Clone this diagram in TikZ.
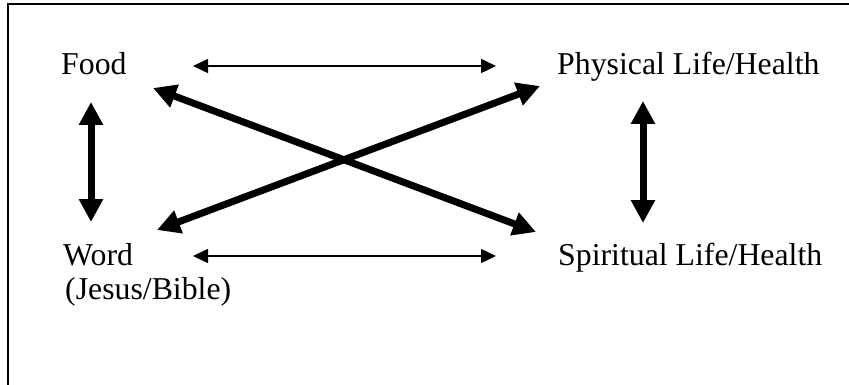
\documentclass[tikz,border=0pt]{standalone}
\usepackage{fontspec}
\setmainfont{Liberation Serif}
\usetikzlibrary{arrows.meta}
\begin{document}
\begin{tikzpicture}[x=1pt,y=-1pt,
  lbl/.style={anchor=base west,inner sep=0pt,font=\fontsize{31.8}{36}\selectfont},
  thin/.style={line width=1.5pt,{Triangle[length=15pt,width=14pt]}-{Triangle[length=15pt,width=14pt]}},
  thick/.style={line width=7pt,{Triangle[length=23pt,width=23pt]}-{Triangle[length=23pt,width=23pt]}},
  frame/.style={line width=2pt}]
\useasboundingbox (0,0) rectangle (849,385);
% frame (top and left edges visible)
\coordinate (fc) at (8,4);
\draw[frame] (849,4) -- (fc) -- (8,385);
% labels
\node[lbl] (food) at (61,75) {Food};
\node[lbl] (phys) at (557,75) {Physical Life/Health};
\node[lbl] (word) at (63,265) {Word};
\node[lbl] (wordsub) at (65,299) {(Jesus/Bible)};
\node[lbl] (spir) at (558,265) {Spiritual Life/Health};
% arrow end points
\coordinate (tl) at (193,66);
\coordinate (tr) at (496,66);
\coordinate (bl) at (193,256);
\coordinate (br) at (496,256);
\coordinate (lt) at (91,102);
\coordinate (lb) at (91,222);
\coordinate (rt) at (643,101);
\coordinate (rb) at (643,223);
\coordinate (d1a) at (153,88);
\coordinate (d1b) at (536,232);
\coordinate (d2a) at (540,86);
\coordinate (d2b) at (157,230);
% connectors
\draw[thin] (tl) -- (tr);
\draw[thin] (bl) -- (br);
\draw[thick] (lt) -- (lb);
\draw[thick] (rt) -- (rb);
\draw[thick] (d1a) -- (d1b);
\draw[thick] (d2a) -- (d2b);
\end{tikzpicture}
\end{document}
